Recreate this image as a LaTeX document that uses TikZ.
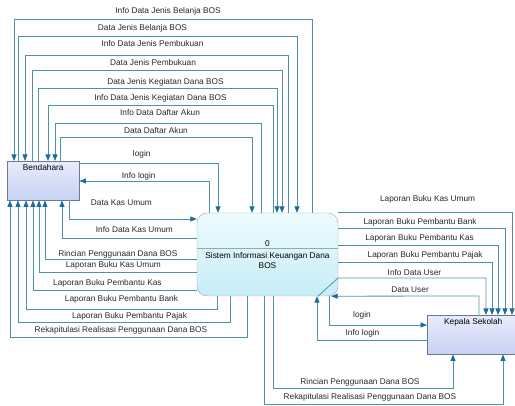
\documentclass[tikz,border=0pt]{standalone}
\usepackage{fontspec}
\setmainfont{Liberation Sans}
\usepackage{xcolor}
\usetikzlibrary{positioning, arrows.meta}

\definecolor{flowline}{RGB}{78,146,170}
\definecolor{tipblue}{RGB}{28,108,158}
\definecolor{entityedge}{RGB}{105,122,145}
\definecolor{procedge}{RGB}{150,168,178}
\definecolor{entitytop}{RGB}{232,236,252}
\definecolor{entitybot}{RGB}{200,209,243}
\definecolor{proctop}{RGB}{238,251,253}
\definecolor{procbot}{RGB}{198,237,246}

\begin{document}
\begin{tikzpicture}[
  x=1pt, y=-1pt,
  font=\fontsize{8.3}{10}\selectfont,
  >={Triangle[length=6.5pt, width=5pt, color=tipblue]},
  flow/.style={draw=flowline, line width=0.8pt},
  lbl/.style={text=black!85, inner sep=0pt, text height=6pt, text depth=0pt},
  entity/.style={
    draw=entityedge, top color=entitytop, bottom color=entitybot,
    anchor=north west, minimum width=#1, inner xsep=0pt, inner ysep=3pt,
    text height=6pt, text depth=27pt
  },
  process/.style={
    draw=procedge, top color=proctop, bottom color=procbot, rounded corners=10pt,
    minimum width=141pt, minimum height=83pt, align=center, inner sep=0pt
  }
]
\useasboundingbox (0,0) rectangle (515,406);

% External entities and the process
\node[entity=72pt] (bend) at (7,161) {Bendahara};
\node[process] (proc) at (267.5,254.5) {0\\[2pt]Sistem Informasi Keuangan Dana\\BOS};
\draw[procedge] ([yshift=6.3pt]proc.west) -- ([yshift=6.3pt]proc.east);
\node[entity=92pt] (kep) at (427,315) {Kepala Sekolah};

% Bendahara <-> process, upper flows
\draw[flow, ->] (312,0 |- proc.north) -- (312,19) -- node[lbl, above=5pt, xshift=5pt] {Info Data Jenis Belanja BOS} (14,19) -- (14,0 |- bend.north);
\draw[flow, ->] (18,0 |- bend.north) -- (18,36) -- node[lbl, above=5pt, xshift=-15pt] {Data Jenis Belanja BOS} (297,36) -- (297,0 |- proc.north);
\draw[flow, ->] (288,0 |- proc.north) -- (288,55) -- node[lbl, above=8pt, xshift=-4pt] {Info Data Jenis Pembukuan} (25,55) -- (25,0 |- bend.north);
\draw[flow, ->] (32,0 |- bend.north) -- (32,70) -- node[lbl, above=4pt, xshift=-4pt] {Data Jenis Pembukuan} (282,70) -- (282,0 |- proc.north);
\draw[flow, ->] (38,0 |- bend.north) -- (38,88) -- node[lbl, above=3pt, xshift=8pt] {Data Jenis Kegiatan Dana BOS} (277,88) -- (277,0 |- proc.north);
\draw[flow, ->] (273,0 |- proc.north) -- (273,105) -- node[lbl, above=4pt] {Info Data Jenis Kegiatan Dana BOS} (48,105) -- (48,0 |- bend.north);
\draw[flow, ->] (261,0 |- proc.north) -- (261,123) -- node[lbl, above=7pt, xshift=2pt] {Info Data Daftar Akun} (55,123) -- (55,0 |- bend.north);
\draw[flow, ->] (60,0 |- bend.north) -- (60,137) -- node[lbl, above=3pt] {Data Daftar Akun} (252,137) -- (252,0 |- proc.north);
\draw[flow, ->] (bend.east |- 0,163) -- node[lbl, above=6pt, xshift=-7pt] {login} (218,163) -- (218,0 |- proc.north);
\draw[flow, ->] (209,0 |- proc.north) -- (209,181) -- node[lbl, above=2pt, xshift=-5.5pt] {Info login} (bend.east |- 0,181);

% Bendahara <-> process, lower flows
\draw[flow, ->] (69,0 |- bend.south) -- (69,219) -- node[lbl, above=13pt, xshift=-11.5pt] {Data Kas Umum} (proc.west |- 0,219);
\draw[flow, ->] (proc.west |- 0,238) -- node[lbl, above=5pt, xshift=5pt] {Info Data Kas Umum} (62,238) -- (62,0 |- bend.south);
\draw[flow, ->] (proc.west |- 0,259) -- node[lbl, above=2.5pt, xshift=-3pt] {Rincian Penggunaan Dana BOS} (45,259) -- (45,0 |- bend.south);
\draw[flow, ->] (proc.west |- 0,272) -- node[lbl, above=4pt, xshift=-4.5pt] {Laporan Buku Kas Umum} (39,272) -- (39,0 |- bend.south);
\draw[flow, ->] (proc.west |- 0,290) -- node[lbl, above=4pt, xshift=-7.5pt] {Laporan Buku Pembantu Kas} (33,290) -- (33,0 |- bend.south);
\draw[flow, ->] (217,0 |- proc.south) -- (217,309) -- node[lbl, above=7pt] {Laporan Buku Pembantu Bank} (26,309) -- (26,0 |- bend.south);
\draw[flow, ->] (230,0 |- proc.south) -- (230,322) -- node[lbl, above=3pt, xshift=5.5pt] {Laporan Buku Pembantu Pajak} (18,322) -- (18,0 |- bend.south);
\draw[flow, ->] (247,0 |- proc.south) -- (247,337) -- node[lbl, above=4pt, xshift=-7.5pt] {Rekapitulasi Realisasi Penggunaan Dana BOS} (10,337) -- (10,0 |- bend.south);

% process <-> Kepala Sekolah
\draw[flow, ->] (proc.north east) -- node[lbl, above=11pt, xshift=2.5pt] {Laporan Buku Kas Umum} (512,0 |- proc.north east) -- (512,0 |- kep.north);
\draw[flow, ->] (proc.east |- 0,228) -- node[lbl, above=3pt, xshift=-1.5pt] {Laporan Buku Pembantu Bank} (505,228) -- (505,0 |- kep.north);
\draw[flow, ->] (proc.east |- 0,245) -- node[lbl, above=4pt, xshift=1.5pt] {Laporan Buku Pembantu Kas} (498,245) -- (498,0 |- kep.north);
\draw[flow, ->] (proc.east |- 0,262) -- node[lbl, above=4pt, xshift=10pt] {Laporan Buku Pembantu Pajak} (492,262) -- (492,0 |- kep.north);
\draw[flow, ->] (318,0 |- proc.south) -- (338,278) -- node[lbl, above=2pt, xshift=2.5pt] {Info Data User} (486,278) -- (486,0 |- kep.north);
\draw[flow, ->] (479,0 |- kep.north) -- (479,296) -- node[lbl, above=3pt, xshift=5pt] {Data User} ([xshift=-7pt]proc.south east);
\draw[flow, ->] (329,0 |- proc.south) -- (329,325) -- node[lbl, above=7pt, xshift=-16pt] {login} (kep.west |- 0,325);
\draw[flow, ->] (kep.west |- 0,340) -- node[lbl, above=4pt, xshift=-9.5pt] {Info login} (317,340) -- (317,0 |- proc.south);
\draw[flow, ->] (273,0 |- proc.south) -- (273,388) -- node[lbl, above=3.5pt, xshift=-3pt] {Rincian Penggunaan Dana BOS} (453,388) -- (453,0 |- kep.south);
\draw[flow, ->] (264,0 |- proc.south) -- (264,404) -- node[lbl, above=4pt, xshift=-13.5pt] {Rekapitulasi Realisasi Penggunaan Dana BOS} (503,404) -- (503,0 |- kep.south);

\end{tikzpicture}
\end{document}
